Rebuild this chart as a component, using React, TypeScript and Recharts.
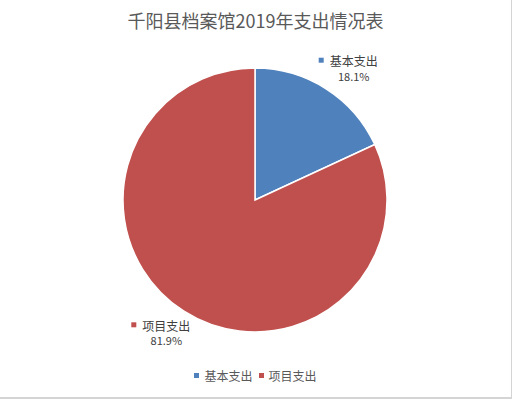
import { Cell, Legend, Pie, PieChart } from 'recharts'

const categories = ['基本支出', '项目支出']
const shares = [18.1, 81.9]
const colors = ['#4F81BD', '#C0504D']

const data = categories.map((name, i) => ({ name, value: shares[i] }))

const FONT = '"Microsoft YaHei", "Noto Sans CJK SC", sans-serif'
const RAD = Math.PI / 180

// label box sits just outside the pie, pushed away along the mid angle
function renderLabel(props: any) {
  const { cx, cy, midAngle, outerRadius, index } = props
  const cos = Math.cos(-midAngle * RAD)
  const sin = Math.sin(-midAngle * RAD)
  const r = outerRadius + 12
  const bx = cx + r * cos + 30 * cos
  const by = cy + r * sin + 13 * sin
  const x0 = bx - 30
  return (
    <g>
      <rect x={x0} y={by - 10} width={5} height={5} fill={colors[index]} />
      <text x={x0 + 11} y={by - 7} fontSize={12} fill="#404040" dominantBaseline="central" fontFamily={FONT}>
        {categories[index]}
      </text>
      <text x={x0 + 35} y={by + 8} fontSize={11} fill="#404040" textAnchor="middle" dominantBaseline="central" fontFamily={FONT}>
        {shares[index].toFixed(1)}%
      </text>
    </g>
  )
}

function renderLegend() {
  return (
    <div style={{ display: 'flex', justifyContent: 'center', gap: 6, fontFamily: FONT, fontSize: 12, color: '#595959' }}>
      {categories.map((name, i) => (
        <span key={name} style={{ display: 'flex', alignItems: 'center' }}>
          <span style={{ width: 5, height: 5, background: colors[i], marginRight: 5 }} />
          {name}
        </span>
      ))}
    </div>
  )
}

export default function App() {
  return (
    <div
      style={{
        position: 'absolute',
        left: 0,
        top: 0,
        width: 511,
        height: 397,
        background: '#fff',
        borderRight: '1px solid #d4d4d4',
        borderBottom: '2px solid #d4d4d4',
      }}
    >
      <div
        style={{
          position: 'absolute',
          top: 7,
          width: 511,
          textAlign: 'center',
          fontFamily: FONT,
          fontSize: 18,
          color: '#595959',
        }}
      >
        千阳县档案馆2019年支出情况表
      </div>
      <PieChart width={511} height={397} margin={{ top: 0, right: 0, bottom: 0, left: 0 }}>
        <Pie
          data={data}
          dataKey="value"
          cx={255}
          cy={200}
          outerRadius={132}
          startAngle={90}
          endAngle={-270}
          stroke="#fff"
          strokeWidth={1.5}
          label={renderLabel}
          labelLine={false}
          isAnimationActive={false}
        >
          {data.map((d, i) => (
            <Cell key={d.name} fill={colors[i]} />
          ))}
        </Pie>
        <Legend content={renderLegend} verticalAlign="bottom" wrapperStyle={{ bottom: 13 }} />
      </PieChart>
    </div>
  )
}
